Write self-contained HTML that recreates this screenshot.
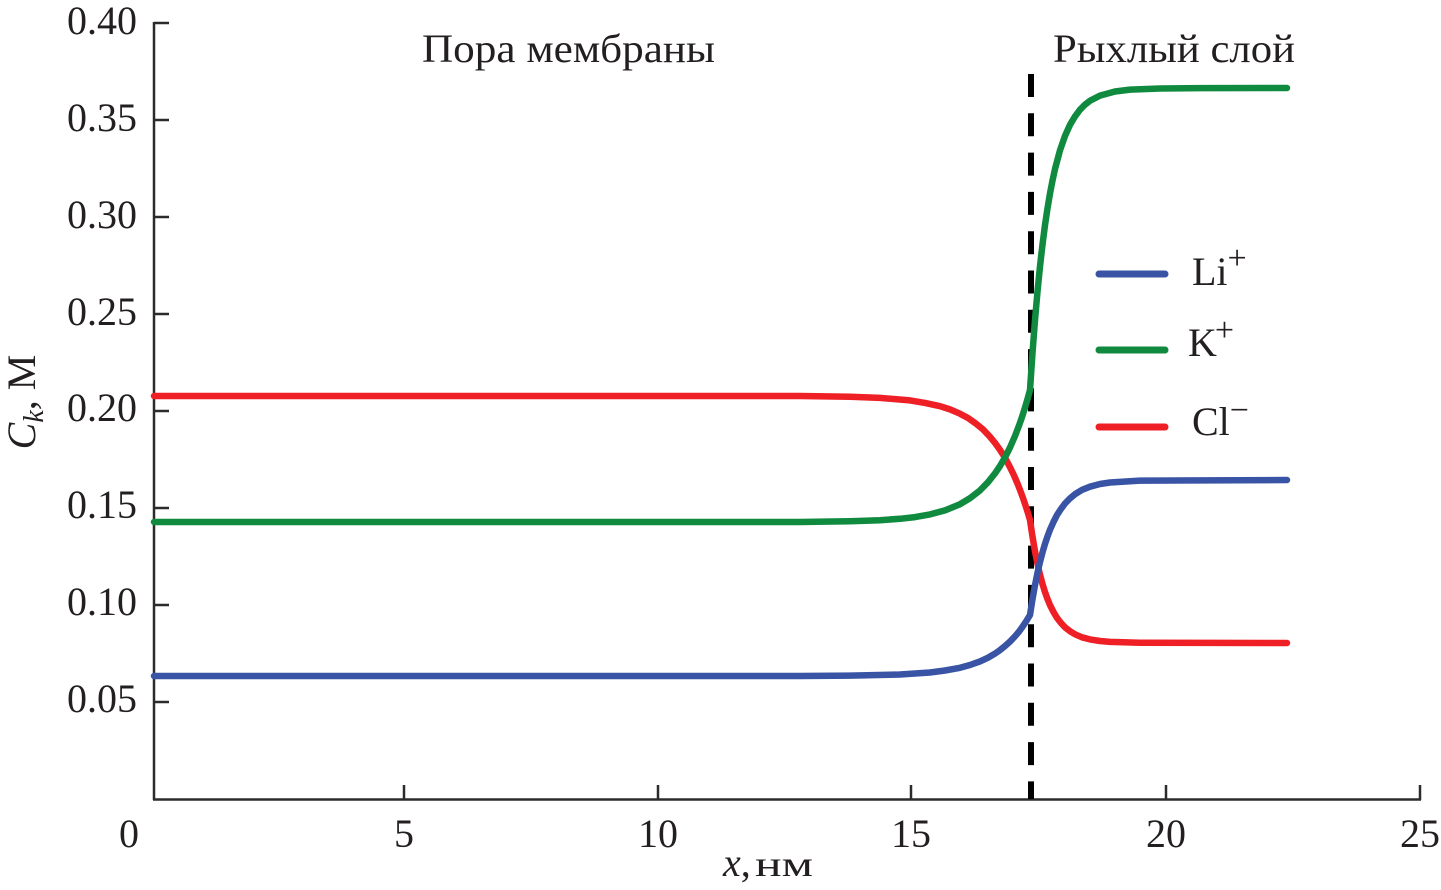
<!DOCTYPE html>
<html>
<head>
<meta charset="utf-8">
<style>
  html, body { margin:0; padding:0; background:#ffffff; }
  body { width:1441px; height:890px; overflow:hidden; }
  svg { display:block; }
  text { font-family: "Liberation Serif", "DejaVu Serif", serif; fill:#231f20; }
</style>
</head>
<body>
<svg width="1441" height="890" viewBox="0 0 1441 890" xmlns="http://www.w3.org/2000/svg">
  <!-- axes -->
  <g stroke="#2b2b2b" stroke-width="2.5" fill="none">
    <line x1="154" y1="22" x2="154" y2="800"/>
    <line x1="153" y1="799.5" x2="1421" y2="799.5"/>
    <line x1="154" y1="23" x2="169" y2="23"/>
    <line x1="154" y1="120" x2="169" y2="120"/>
    <line x1="154" y1="217" x2="169" y2="217"/>
    <line x1="154" y1="314" x2="169" y2="314"/>
    <line x1="154" y1="411" x2="169" y2="411"/>
    <line x1="154" y1="508" x2="169" y2="508"/>
    <line x1="154" y1="605" x2="169" y2="605"/>
    <line x1="154" y1="702" x2="169" y2="702"/>
    <line x1="404" y1="785" x2="404" y2="800"/>
    <line x1="658" y1="785" x2="658" y2="800"/>
    <line x1="911" y1="785" x2="911" y2="800"/>
    <line x1="1166" y1="785" x2="1166" y2="800"/>
    <line x1="1420" y1="785" x2="1420" y2="800"/>
  </g>

  <!-- y tick labels -->
  <g font-size="40" text-anchor="end">
    <text x="137" y="34">0.40</text>
    <text x="137" y="131">0.35</text>
    <text x="137" y="228">0.30</text>
    <text x="137" y="325">0.25</text>
    <text x="137" y="421">0.20</text>
    <text x="137" y="518">0.15</text>
    <text x="137" y="615">0.10</text>
    <text x="137" y="712">0.05</text>
  </g>

  <!-- x tick labels -->
  <g font-size="40" text-anchor="middle">
    <text x="129" y="847">0</text>
    <text x="404" y="847">5</text>
    <text x="658" y="847">10</text>
    <text x="911" y="847">15</text>
    <text x="1166" y="847">20</text>
    <text x="1420" y="847">25</text>
  </g>

  <!-- axis labels -->
  <text x="723" y="876" font-size="40"><tspan font-style="italic">x</tspan>,</text>
  <text x="755" y="876" font-size="36" textLength="58" lengthAdjust="spacingAndGlyphs">нм</text>
  <text transform="translate(35,402) rotate(-90)" text-anchor="middle" font-size="40"><tspan font-style="italic">C</tspan><tspan font-style="italic" font-size="28" dy="8">k</tspan><tspan dy="-8">, M</tspan></text>

  <!-- region titles -->
  <text x="422" y="62" font-size="40" textLength="293" lengthAdjust="spacingAndGlyphs">Пора мембраны</text>
  <text x="1053" y="62" font-size="40" textLength="242" lengthAdjust="spacingAndGlyphs">Рыхлый слой</text>

  <!-- dashed interface line -->
  <line x1="1031" y1="74" x2="1031" y2="799" stroke="#000" stroke-width="6" stroke-dasharray="23 16.3"/>

  <!-- curves -->
  <g fill="none" stroke-width="6.5" stroke-linecap="round" stroke-linejoin="round">
    <path stroke="#ee1f25" d="M154,396 L800,396 L850,396.8 L880,397.9 L910,400.4 L925,402.9 L940,406.2 L950,409.4 L960,413.7 L968,418.0 L975,422.9 L983,429.4 L990,436.8 L995,442.9 L1000,449.9 L1005,457.8 L1010,467.2 L1013,473.3 L1015,477.7 L1018,484.8 L1020,489.9 L1023,498.0 L1025,503.9 L1028,513.2 L1030,520 L1032.5,536.6 L1035,551.4 L1037.5,563.9 L1040,574.7 L1042.5,584.0 L1045,592.1 L1047.5,599.0 L1050,605.1 L1053.5,612.0 L1057,617.9 L1061,623.0 L1065,627.3 L1070,631.2 L1075,634.3 L1082,637.3 L1090,639.4 L1100,641.0 L1110,641.9 L1140,642.8 L1287,643"/>
    <path stroke="#0f8a3f" d="M154,522 L800,522 L850,521.2 L880,520.2 L900,518.8 L915,517.1 L930,514.4 L945,510.4 L960,504.2 L970,498.2 L980,490.4 L988,482.2 L995,473.4 L1000,466 L1005,457.4 L1010,447.5 L1015,436.0 L1019,425.6 L1022,417.0 L1025,407.6 L1028,397.3 L1030,390 L1032.5,352.8 L1035,320.1 L1037.5,291.5 L1040,266.4 L1042.5,244.5 L1045,225.1 L1047.5,208.3 L1050,193.4 L1052.5,180.6 L1055,169.0 L1060,150.3 L1065,135.9 L1070,124.8 L1075,116.4 L1080,109.7 L1085,104.6 L1090,100.8 L1100,95.6 L1115,91.5 L1130,89.6 L1160,88.5 L1200,88.1 L1287,88"/>
    <path stroke="#3954a5" d="M154,676 L800,676 L850,675.6 L900,674.5 L930,672.5 L945,670.5 L960,667.8 L970,665.0 L980,661.4 L988,657.7 L995,653.6 L1000,650.1 L1005,646.1 L1010,641.6 L1015,636.3 L1019,631.6 L1022,627.5 L1026,621.6 L1030,615 L1032.5,599.1 L1035,585.1 L1037.5,572.8 L1040,561.9 L1042.5,552.4 L1045,543.8 L1047.5,536.4 L1050,529.7 L1053.5,521.9 L1057,515.0 L1061,508.9 L1065,503.5 L1070,498.4 L1075,494.2 L1082,489.9 L1090,486.7 L1100,484.0 L1110,482.5 L1140,480.6 L1287,480"/>
  </g>

  <!-- legend -->
  <g stroke-width="7" stroke-linecap="round">
    <line x1="1099" y1="274" x2="1165" y2="274" stroke="#3954a5"/>
    <line x1="1099" y1="350" x2="1165" y2="350" stroke="#0f8a3f"/>
    <line x1="1099" y1="427" x2="1165" y2="427" stroke="#ee1f25"/>
  </g>
  <text x="1192" y="285" font-size="40">Li<tspan font-size="34" dy="-16">+</tspan></text>
  <text x="1188" y="356" font-size="40">K<tspan font-size="34" dy="-15" dx="-2">+</tspan></text>
  <text x="1192" y="435" font-size="40">Cl<tspan font-size="34" dy="-14">−</tspan></text>
</svg>
</body>
</html>
